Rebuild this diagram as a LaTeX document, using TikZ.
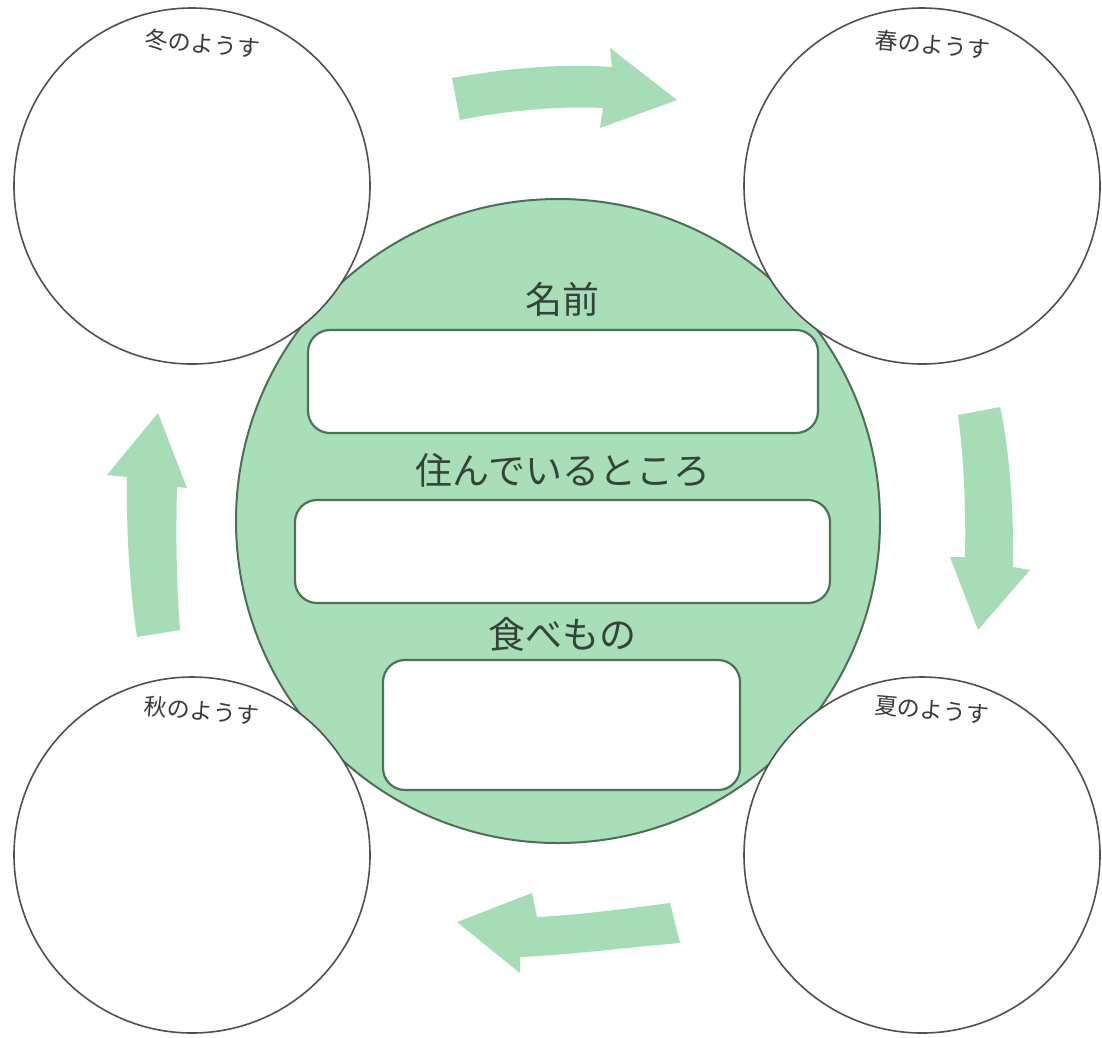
\documentclass[tikz,border=0pt]{standalone}
\usepackage{fontspec}
\setmainfont{Noto Sans CJK JP}
\newfontfamily\jplight{Noto Sans CJK JP}
\definecolor{bigfill}{HTML}{A8DEB8}
\definecolor{arrowfill}{HTML}{A6DDB6}
\definecolor{bigline}{HTML}{4E6E57}
\definecolor{boxline}{HTML}{4A7458}
\definecolor{circline}{HTML}{505050}
\definecolor{labeltext}{HTML}{34443A}
\definecolor{seasontext}{HTML}{3A3A3A}
\begin{document}
\begin{tikzpicture}[x=1pt,y=-1pt,
  bigcircle/.style={circle,draw=bigline,line width=2pt,fill=bigfill,minimum size=644pt,inner sep=0pt},
  cornercircle/.style={circle,draw=circline,line width=1.6pt,fill=white,minimum size=356pt,inner sep=0pt},
  answerbox/.style={rectangle,rounded corners=22pt,draw=boxline,line width=2.2pt,fill=white,inner sep=0pt},
  bigtitle/.style={text=labeltext,font=\fontsize{37}{40}\selectfont,inner sep=0pt},
  seasontitle/.style={text=seasontext,font=\jplight\fontsize{23}{26}\selectfont,inner sep=0pt,rotate=-5},
  cyclearrow/.style={fill=arrowfill,draw=none}]
\fill[white] (0,0) rectangle (1102,1037);
\useasboundingbox (0,0) rectangle (1102,1037);

% central circle
\node[bigcircle] (center) at (558,521) {};

% season circles
\node[cornercircle] (winter) at (192,186) {};
\node[cornercircle] (spring) at (922,186) {};
\node[cornercircle] (autumn) at (192,855) {};
\node[cornercircle] (summer) at (922,855) {};

\node[seasontitle] (winterlabel) at (203,44) {冬のようす};
\node[seasontitle] (springlabel) at (933,45) {春のようす};
\node[seasontitle] (autumnlabel) at (202,711) {秋のようす};
\node[seasontitle] (summerlabel) at (932,710) {夏のようす};

% answer boxes
\node[answerbox,minimum width=510pt,minimum height=103pt] (namebox) at (563,381.5) {};
\node[answerbox,minimum width=535pt,minimum height=103pt] (homebox) at (562.5,551.5) {};
\node[answerbox,minimum width=357pt,minimum height=130pt] (foodbox) at (561.5,725) {};

\node[bigtitle] (nametitle) at (562,299) {名前};
\node[bigtitle] (hometitle) at (563,470) {住んでいるところ};
\node[bigtitle] (foodtitle) at (562,634) {食べもの};

% cycle arrows
\fill[cyclearrow] (452,78) .. controls (520,66) and (570,64) .. (612,67) -- (610,48) -- (677,100) -- (600,128) -- (603,108) .. controls (560,106) and (510,110) .. (460,120) -- cycle;
\fill[cyclearrow] (958,415) -- (1000,407) .. controls (1010,450) and (1014,520) .. (1013,567) -- (1030,570) -- (978,630) -- (950,557) -- (965,557) .. controls (966,510) and (964,460) .. (958,415) -- cycle;
\fill[cyclearrow] (670,903) -- (680,943) .. controls (620,948) and (570,955) .. (520,957) -- (520,973) -- (457,922) -- (532,893) -- (537,917) .. controls (580,915) and (630,908) .. (670,903) -- cycle;
\fill[cyclearrow] (137,637) -- (180,630) .. controls (176,580) and (176,530) .. (177,487) -- (187,488) -- (158,413) -- (107,475) -- (127,477) .. controls (126,530) and (130,590) .. (137,637) -- cycle;
\end{tikzpicture}
\end{document}
